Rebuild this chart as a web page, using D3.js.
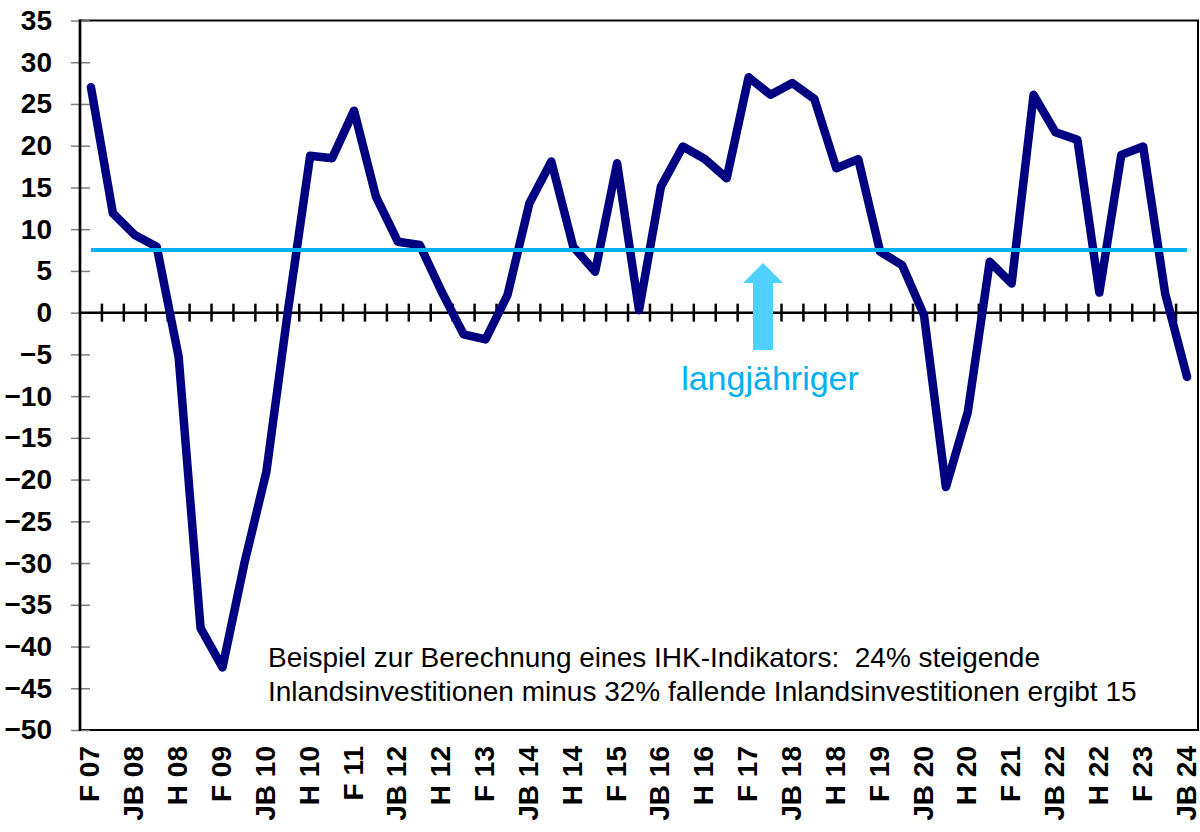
<!DOCTYPE html>
<html>
<head>
<meta charset="utf-8">
<script src="https://cdn.jsdelivr.net/npm/d3@7"></script>
<style>
  body { margin: 0; background: #fff; }
  text { font-family: Arial, "Liberation Sans", sans-serif; }
</style>
</head>
<body>
<div id="chart"></div>
<script>
// survey periods: F = Frühjahr, H = Herbst, JB = Jahresbeginn
let categories = ["F 07", "H 07", "JB 08", "F 08", "H 08", "JB 09", "F 09", "H 09", "JB 10", "F 10",
  "H 10", "JB 11", "F 11", "H 11", "JB 12", "F 12", "H 12", "JB 13", "F 13", "H 13",
  "JB 14", "F 14", "H 14", "JB 15", "F 15", "H 15", "JB 16", "F 16", "H 16", "JB 17",
  "F 17", "H 17", "JB 18", "F 18", "H 18", "JB 19", "F 19", "H 19", "JB 20", "F 20",
  "H 20", "JB 21", "F 21", "H 21", "JB 22", "F 22", "H 22", "JB 23", "F 23", "H 23", "JB 24"];

let saldo = [27.0, 11.9, 9.3, 7.9, -5.3, -37.8, -42.5, -30.0, -19.1, 0.5,
  18.8, 18.5, 24.2, 13.9, 8.5, 8.1, 2.5, -2.6, -3.2, 2.1,
  13.1, 18.1, 7.9, 4.9, 17.9, 0.3, 15.1, 19.9, 18.4, 16.1,
  28.2, 26.1, 27.5, 25.6, 17.3, 18.4, 7.3, 5.7, -0.3, -20.9,
  -11.9, 6.1, 3.5, 26.1, 21.6, 20.7, 2.4, 18.9, 19.9, 2.3, -7.7];

let longTermAvg = 7.5;
let yTicks = d3.range(-50, 36, 5);
let noteLines = ["Beispiel zur Berechnung eines IHK-Indikators:  24% steigende",
  "Inlandsinvestitionen minus 32% fallende Inlandsinvestitionen ergibt 15"];
let avgLabel = "langjähriger";

let width = 1200, height = 832;
let plotLeft = 80, plotRight = 1198, plotTop = 20.5, plotBottom = 730;

let svg = d3.select("#chart")
  .append("svg")
  .attr("width", width)
  .attr("height", height);

let x = d3.scaleBand()
  .domain(categories)
  .range([plotLeft, plotRight])
  .padding(0);

let y = d3.scaleLinear()
  .domain([-50, 35])
  .range([plotBottom, plotTop]);

let cx = d => x(d) + x.bandwidth() / 2;

// frame
svg.append("rect")
  .attr("x", plotLeft).attr("y", plotTop)
  .attr("width", plotRight - plotLeft).attr("height", plotBottom - plotTop)
  .style("fill", "none")
  .style("stroke", "#000")
  .style("stroke-width", 2);

// y axis
let yAxis = svg.append("g")
  .attr("transform", "translate(" + plotLeft + ",0)")
  .call(d3.axisLeft(y).tickValues(yTicks).tickSize(0).tickPadding(28));
yAxis.select(".domain").remove();
yAxis.selectAll("text")
  .style("font-size", "28px")
  .style("font-weight", "bold")
  .style("font-family", "Arial, 'Liberation Sans', sans-serif")
  .attr("fill", "#000");
yAxis.selectAll(".tick").append("line")
  .attr("x1", -9).attr("x2", 10)
  .style("stroke", "#808080")
  .style("stroke-width", 1.5);

svg.append("line")
  .attr("x1", plotLeft).attr("x2", plotLeft)
  .attr("y1", plotTop - 1).attr("y2", plotBottom + 1)
  .style("stroke", "#000")
  .style("stroke-width", 2.7);

// zero line with category ticks
let y0 = y(0);
svg.append("line")
  .attr("x1", plotLeft).attr("x2", plotRight)
  .attr("y1", y0).attr("y2", y0)
  .style("stroke", "#000")
  .style("stroke-width", 2.5);

svg.selectAll("line.cat-tick")
  .data(categories.slice(1))
  .enter()
  .append("line")
  .attr("class", "cat-tick")
  .attr("x1", d => x(d)).attr("x2", d => x(d))
  .attr("y1", y0 - 9).attr("y2", y0 + 9)
  .style("stroke", "#000")
  .style("stroke-width", 2.5);

// x labels, every second period
svg.selectAll("text.xlab")
  .data(categories.filter((d, i) => i % 2 === 0))
  .enter()
  .append("text")
  .attr("class", "xlab")
  .attr("transform", d => "translate(" + (cx(d) - 1) + "," + (plotBottom + 16) + ") rotate(-90)")
  .attr("dy", "0.34em")
  .attr("text-anchor", "end")
  .style("font-size", "28px")
  .style("font-weight", "bold")
  .text(d => d);

// data line
let line = d3.line()
  .x((d, i) => cx(categories[i]))
  .y(d => y(d));

svg.append("path")
  .datum(saldo)
  .attr("d", line)
  .style("fill", "none")
  .style("stroke", "#000080")
  .style("stroke-width", 8.5)
  .style("stroke-linejoin", "round")
  .style("stroke-linecap", "round");

// long-term average
svg.append("line")
  .attr("x1", cx(categories[0])).attr("x2", cx(categories[categories.length - 1]))
  .attr("y1", y(longTermAvg)).attr("y2", y(longTermAvg))
  .style("stroke", "#00B0F0")
  .style("stroke-width", 4);

// arrow pointing to the average
let ax = 763;
svg.append("polygon")
  .attr("points", [
    [ax, 263], [ax + 20, 283], [ax + 10, 283], [ax + 10, 350],
    [ax - 10, 350], [ax - 10, 283], [ax - 20, 283]
  ].map(p => p.join(",")).join(" "))
  .style("fill", "#50D0FF");

svg.append("text")
  .attr("x", 770).attr("y", 390)
  .attr("text-anchor", "middle")
  .style("font-size", "34px")
  .style("fill", "#00B0F0")
  .text(avgLabel);

// note
svg.selectAll("text.note")
  .data(noteLines)
  .enter()
  .append("text")
  .attr("class", "note")
  .attr("x", 268)
  .attr("y", (d, i) => 667 + i * 33.5)
  .style("font-size", "28px")
  .style("fill", "#000")
  .style("white-space", "pre")
  .text(d => d);
</script>
</body>
</html>
